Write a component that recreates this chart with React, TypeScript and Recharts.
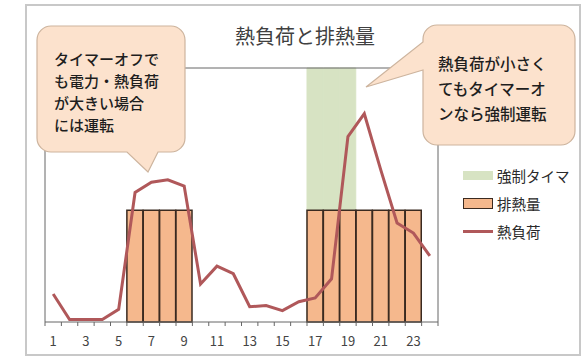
import { ComposedChart, Bar, Line, XAxis, YAxis, Legend } from 'recharts';

const hours = ['1', '2', '3', '4', '5', '6', '7', '8', '9', '10', '11', '12', '13', '14', '15', '16', '17', '18', '19', '20', '21', '22', '23', '24'];
const heatLoad = [11, 1, 1, 1, 5, 51, 55, 56, 53.5, 15, 22, 19, 6, 6.5, 4.5, 8, 9.5, 17, 73, 82, 60, 39, 35, 26];
const exhaustHeat = [null, null, null, null, null, 44, 44, 44, 44, null, null, null, null, null, null, null, 44, 44, 44, 44, 44, 44, 44, null];
const forcedTimer = [null, null, null, null, null, null, null, null, null, null, null, null, null, null, null, null, 100, 100, 100, null, null, null, null, null];

const leftNote = ['タイマーオフで', 'も電力・熱負荷', 'が大きい場合', 'には運転'];
const rightNote = ['熱負荷が小さく', 'てもタイマーオ', 'ンなら強制運転'];

const data = hours.map((h, i) => ({
    hour: h,
    timer: forcedTimer[i],
    exhaust: exhaustHeat[i],
    load: heatLoad[i],
}));

const FONT = '"Noto Sans CJK JP", "Noto Sans", sans-serif';
const GREEN = '#d7e3c3';
const ORANGE = '#f5b88d';
const BAR_EDGE = '#3a2a20';
const RED = '#b0585a';
const AXIS = '#666';
const BAND = 393 / 24;

const HourTick = (props: any) => {
    const { x, y, payload, index } = props;
    const n = Number(payload.value);
    return (
        <g>
            <line x1={x - BAND / 2} x2={x - BAND / 2} y1={y} y2={y + 4} stroke={AXIS} />
            {index === hours.length - 1 && (
                <line x1={x + BAND / 2} x2={x + BAND / 2} y1={y} y2={y + 4} stroke={AXIS} />
            )}
            {n % 2 === 1 && (
                <text x={x} y={y + 18} textAnchor="middle" dominantBaseline="central" fontSize={13} fill="#444" fontFamily={FONT}>
                    {payload.value}
                </text>
            )}
        </g>
    );
};

const swatch = (name: string) => {
    if (name === '強制タイマ') return <div style={{ width: 30, height: 9, background: GREEN }} />;
    if (name === '排熱量')
        return <div style={{ width: 30, height: 11, background: ORANGE, border: `1.5px solid ${BAR_EDGE}`, boxSizing: 'border-box' }} />;
    return <div style={{ width: 30, height: 3, background: RED }} />;
};

const LegendBox = (props: any) => (
    <div style={{ fontFamily: FONT }}>
        {(props.payload || []).map((p: any) => (
            <div key={p.value} style={{ display: 'flex', alignItems: 'center', height: 28 }}>
                <div style={{ width: 30, display: 'flex', justifyContent: 'center' }}>{swatch(p.value)}</div>
                <span style={{ marginLeft: 4, fontSize: 14.5, color: '#2a2a2a' }}>{p.value}</span>
            </div>
        ))}
    </div>
);

export default function App() {
    return (
        <div style={{ position: 'absolute', left: 0, top: 0, width: 586, height: 358, background: '#fff', overflow: 'hidden' }}>
            <div style={{ position: 'absolute', left: 25, top: 4, width: 556, height: 352, border: '2px solid #c8c8c8', boxSizing: 'border-box' }} />
            <div style={{ position: 'absolute', left: 0, top: 0 }}>
                <ComposedChart
                    width={586}
                    height={358}
                    data={data}
                    margin={{ top: 67, right: 147, bottom: 0, left: 44 }}
                    barCategoryGap={0}
                    barGap={0}
                >
                    <XAxis
                        dataKey="hour"
                        height={36}
                        interval={0}
                        tickSize={0}
                        tickMargin={0}
                        tickLine={false}
                        axisLine={{ stroke: AXIS }}
                        tick={<HourTick />}
                    />
                    <XAxis xAxisId="top" dataKey="hour" orientation="top" height={1} tick={false} tickLine={false} axisLine={{ stroke: AXIS }} />
                    <YAxis domain={[0, 100]} width={1} tick={false} tickLine={false} axisLine={{ stroke: AXIS }} />
                    <YAxis yAxisId="right" orientation="right" domain={[0, 100]} width={1} tick={false} tickLine={false} axisLine={{ stroke: AXIS }} />
                    <Bar xAxisId="top" dataKey="timer" name="強制タイマ" fill={GREEN} stroke={GREEN} strokeWidth={1} isAnimationActive={false} />
                    <Bar dataKey="exhaust" name="排熱量" fill={ORANGE} stroke={BAR_EDGE} strokeWidth={1.5} isAnimationActive={false} />
                    <Line dataKey="load" name="熱負荷" stroke={RED} strokeWidth={3} dot={false} type="linear" isAnimationActive={false} />
                    <Legend
                        layout="vertical"
                        align="center"
                        verticalAlign="middle"
                        content={<LegendBox />}
                        wrapperStyle={{ left: 463, top: 161, width: 120, height: 90 }}
                    />
                </ComposedChart>
            </div>
            <svg width={586} height={358} style={{ position: 'absolute', left: 0, top: 0, pointerEvents: 'none' }} fontFamily={FONT}>
                <text x={305} y={35} textAnchor="middle" dominantBaseline="central" fontSize={20} fill="#404040">
                    熱負荷と排熱量
                </text>
                <path
                    d="M51,26 H171 A14,14 0 0 1 185,40 V138 A14,14 0 0 1 171,152 H158 L148,172 L127,152 H51 A14,14 0 0 1 37,138 V40 A14,14 0 0 1 51,26 Z"
                    fill="#fce2cd"
                    stroke="#cdb49e"
                    strokeWidth={1.2}
                />
                {leftNote.map((t, i) => (
                    <text key={t} x={54} y={58 + i * 22} dominantBaseline="central" fontSize={15} fill="#1e1e1e" fontWeight={500}>
                        {t}
                    </text>
                ))}
                <path
                    d="M437,25 H561 A14,14 0 0 1 575,39 V131 A14,14 0 0 1 561,145 H437 A14,14 0 0 1 423,131 V70 L366,87 L423,42 V39 A14,14 0 0 1 437,25 Z"
                    fill="#fce2cd"
                    stroke="#cdb49e"
                    strokeWidth={1.2}
                />
                {rightNote.map((t, i) => (
                    <text key={t} x={438} y={63 + i * 25} dominantBaseline="central" fontSize={15.5} fill="#1e1e1e" fontWeight={500}>
                        {t}
                    </text>
                ))}
            </svg>
        </div>
    );
}
